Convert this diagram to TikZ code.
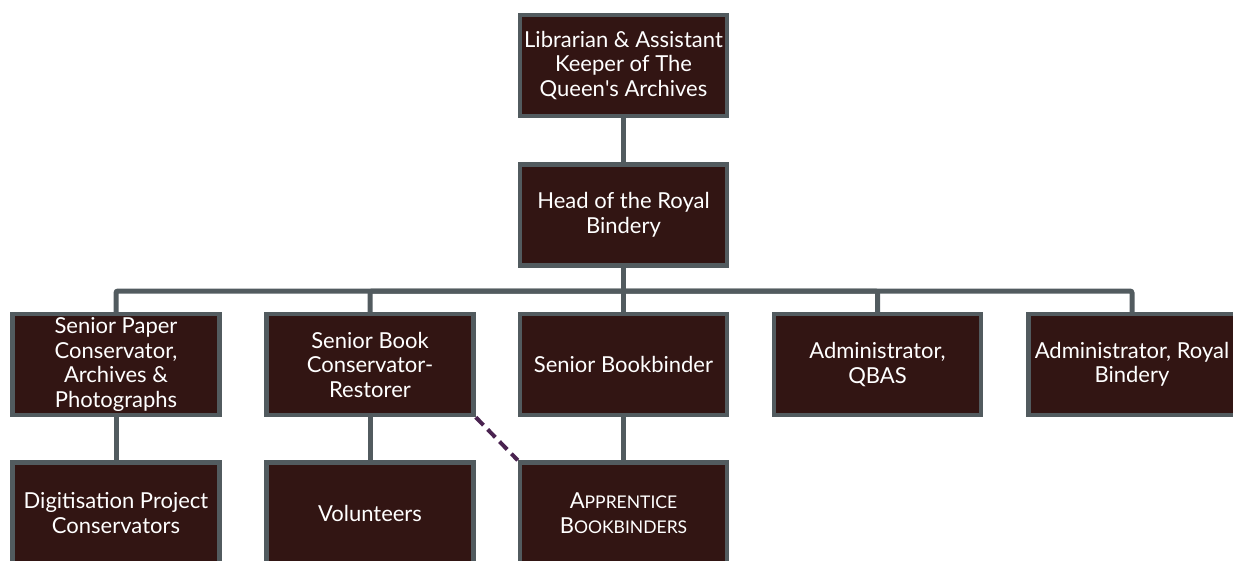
\documentclass[tikz,border=0pt]{standalone}
\usepackage{fontspec}
\setmainfont{Lato}
\newfontfamily\latoplain{Lato}
\definecolor{boxfill}{HTML}{321513}
\definecolor{boxline}{HTML}{525B5F}
\definecolor{dashcol}{HTML}{4A2350}
\begin{document}
\begin{tikzpicture}[x=1pt,y=-1pt,
  orgbox/.style={draw=boxline, fill=boxfill, line width=4.5pt, minimum width=207pt, minimum height=101pt,
    inner sep=1pt, text=white, align=center, font=\fontsize{22}{24.5}\selectfont},
  link/.style={draw=boxline, line width=5pt, rounded corners=2pt},
  dotlink/.style={draw=dashcol, line width=4pt, dash pattern=on 11pt off 6pt}]
\useasboundingbox (0,0) rectangle (1233,561);
\clip (0,0) rectangle (1233,561);
\node[orgbox] (top) at (623.5,65.5) {Librarian \& Assistant\\Keeper of The\\Queen{\latoplain '}s Archives};
\node[orgbox] (head) at (623.5,215) {Head of the Royal\\Bindery};
\node[orgbox] (b1) at (116,364.5) {Senior Paper\\Conservator,\\Archives \&\\Photographs};
\node[orgbox] (b2) at (370,364.5) {Senior Book\\Conservator-\\Restorer};
\node[orgbox] (b3) at (623.5,364.5) {Senior Bookbinder};
\node[orgbox] (b4) at (877.5,364.5) {Administrator,\\QBAS};
\node[orgbox] (b5) at (1132,364.5) {Administrator, Royal\\Bindery};
\node[orgbox] (d1) at (116,513) {Digitisation Project\\Conservators};
\node[orgbox] (d2) at (370,513) {Volunteers};
\node[orgbox] (d3) at (623.5,513) {A{\fontsize{17.5}{24.5}\selectfont PPRENTICE}\\B{\fontsize{17.5}{24.5}\selectfont OOKBINDERS}};
\coordinate (j) at (623.5,291);
\draw[link] (top.south) -- (head.north);
\draw[link] (head.south) -- (j);
\draw[link] (j) -| (b1.north);
\draw[link] (j) -| (b2.north);
\draw[link] (j) -- (b3.north);
\draw[link] (j) -| (b4.north);
\draw[link] (j) -| (b5.north);
\draw[link] (b1.south) -- (d1.north);
\draw[link] (b2.south) -- (d2.north);
\draw[link] (b3.south) -- (d3.north);
\draw[dotlink] (b2.south east) -- (d3.north west);
\end{tikzpicture}
\end{document}
